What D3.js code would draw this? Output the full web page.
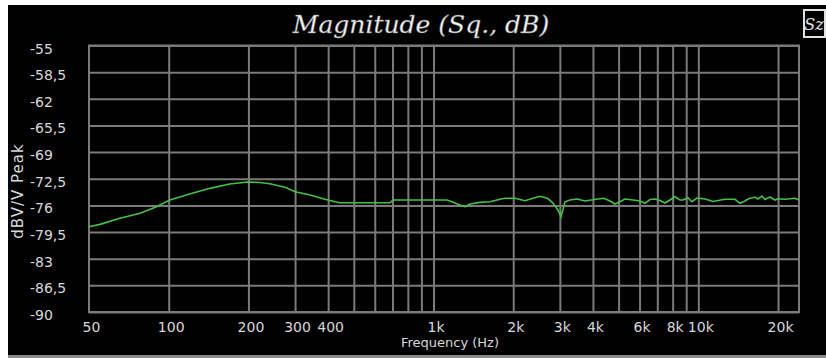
<!DOCTYPE html>
<html>
<head>
<meta charset="utf-8">
<script src="https://cdn.jsdelivr.net/npm/d3@7"></script>
<style>
  body { margin: 0; background: #fff; }
  .tick line { stroke: #7a7a7a; stroke-width: 2; }
  .domain { display: none; }
</style>
</head>
<body>
<div id="chart"></div>
<script>
// response readings (Hz, dB)
var freqHz = [50, 55, 65.5, 78, 89, 101, 120, 143, 170, 199, 221, 241, 275, 300, 342, 389, 425, 443, 550, 685,
    703, 900, 1124, 1174, 1259, 1315, 1374, 1498, 1635, 1783, 1862, 2031, 2216, 2375, 2524, 2706, 2826, 2950, 3030,
    3137, 3276, 3482, 3732, 4107, 4402, 4639, 4845, 5060, 5284, 5767, 6021, 6288, 6568, 6858, 7164, 7483, 7816,
    8163, 8526, 8750, 9140, 9463, 9884, 10600, 11360, 12600, 13760, 14370, 15010, 15400, 16370, 16800, 17390,
    17850, 18640, 19470, 19990, 21240, 23170, 24000];
var magDb = [-78.80, -78.49, -77.70, -77.04, -76.25, -75.29, -74.50, -73.76, -73.19, -72.93, -73.00, -73.15, -73.62,
    -74.20, -74.63, -75.20, -75.52, -75.65, -75.65, -75.65, -75.29, -75.29, -75.29, -75.52, -75.95, -76.17, -75.82,
    -75.60, -75.52, -75.20, -75.07, -75.07, -75.38, -75.07, -74.80, -75.10, -75.69, -76.60, -77.48, -75.52, -75.29,
    -75.16, -75.42, -75.20, -75.07, -75.42, -75.82, -75.52, -75.16, -75.33, -75.42, -75.72, -75.23, -75.16, -75.36,
    -75.69, -75.29, -74.86, -75.29, -75.29, -74.99, -75.52, -75.03, -75.16, -75.48, -75.20, -75.20, -75.72, -75.42,
    -75.16, -74.90, -75.16, -74.77, -75.23, -74.90, -75.29, -75.12, -75.20, -75.07, -75.29];

var yTicks = [-55, -58.5, -62, -65.5, -69, -72.5, -76, -79.5, -83, -86.5, -90];
var gridFreqs = [100, 200, 300, 400, 500, 600, 700, 800, 900, 1000, 2000, 3000, 4000, 5000, 6000, 7000, 8000,
    9000, 10000, 20000];
var labelFreqs = [50, 100, 200, 300, 400, 1000, 2000, 3000, 4000, 6000, 8000, 10000, 20000];
var labelText = ["50", "100", "200", "300", "400", "1k", "2k", "3k", "4k", "6k", "8k", "10k", "20k"];

var W = 826, H = 358,
    margin = {top: 45.5, left: 89},
    width = 710,
    height = 266.5;

var svg = d3.select("#chart").append("svg")
    .attr("width", W)
    .attr("height", H);

// black panel + bottom shadow
svg.append("rect").attr("x", 8).attr("y", 5).attr("width", W - 8).attr("height", 350).attr("fill", "#000");
svg.append("rect").attr("x", 8).attr("y", 355).attr("width", W - 8).attr("height", 3).attr("fill", "#8a8a8a");

var g = svg.append("g").attr("transform", "translate(" + margin.left + "," + margin.top + ")");

var x = d3.scaleLog().domain([50, 24000]).range([0, width]);
var y = d3.scaleLinear().domain([-90, -55]).range([height, 0]);

// grid
g.append("g")
    .call(d3.axisBottom(x).tickValues(gridFreqs).tickSizeOuter(0).tickFormat(""))
    .selectAll("line").attr("y1", 0).attr("y2", height);

g.append("g")
    .call(d3.axisLeft(y).tickValues(yTicks).tickSize(-width).tickFormat(""));

g.append("rect")
    .attr("width", width).attr("height", height)
    .attr("fill", "none").attr("stroke", "#7a7a7a").attr("stroke-width", 2);

// labels
var xLab = g.append("g")
    .attr("transform", "translate(0," + height + ")")
    .call(d3.axisBottom(x).tickValues(labelFreqs).tickSize(0)
        .tickFormat(function (d, i) { return labelText[i]; }));
xLab.selectAll("text")
    .attr("y", 20)
    .attr("dy", 0)
    .attr("dx", 2)
    .style("font-family", "DejaVu Sans")
    .style("font-size", "14px")
    .style("fill", "#d8d8d8");

var yLab = g.append("g")
    .call(d3.axisLeft(y).tickValues(yTicks).tickSize(0)
        .tickFormat(function (d) { return String(d).replace(".", ","); }));
yLab.selectAll("text")
    .attr("x", 30 - margin.left)
    .attr("dy", 7.5)
    .style("text-anchor", "start")
    .style("font-family", "DejaVu Sans")
    .style("font-size", "14px")
    .style("fill", "#d8d8d8");

// curve
var pts = freqHz.map(function (f, i) { return [f, magDb[i]]; });
g.append("path")
    .datum(pts)
    .attr("fill", "none")
    .attr("stroke", "#46c046")
    .attr("stroke-width", 1.6)
    .attr("d", d3.line()
        .x(function (d) { return x(d[0]); })
        .y(function (d) { return y(d[1]); }));

// titles
svg.append("text")
    .attr("x", 421).attr("y", 33)
    .attr("text-anchor", "middle")
    .style("font-family", "DejaVu Serif")
    .style("font-style", "italic")
    .style("font-size", "25px")
    .style("fill", "#f4f4f4")
    .style("stroke", "#777")
    .style("stroke-width", 0.4)
    .text("Magnitude (Sq., dB)");

svg.append("text")
    .attr("x", 450).attr("y", 347)
    .attr("text-anchor", "middle")
    .style("font-family", "DejaVu Sans")
    .style("font-size", "13px")
    .style("fill", "#d8d8d8")
    .text("Frequency (Hz)");

svg.append("text")
    .attr("transform", "translate(23,191) rotate(-90)")
    .attr("text-anchor", "middle")
    .style("font-family", "DejaVu Sans")
    .style("font-size", "15px")
    .style("letter-spacing", "1px")
    .style("fill", "#d8d8d8")
    .text("dBV/V Peak");

// corner icon
svg.append("rect")
    .attr("x", 804).attr("y", 10).attr("width", 21).attr("height", 27)
    .attr("fill", "#000").attr("stroke", "#e0e0e0").attr("stroke-width", 2);
svg.append("text")
    .attr("x", 814).attr("y", 30)
    .attr("text-anchor", "middle")
    .style("font-family", "DejaVu Serif")
    .style("font-style", "italic")
    .style("font-size", "16px")
    .style("fill", "#e0e0e0")
    .text("Sz");
</script>
</body>
</html>
